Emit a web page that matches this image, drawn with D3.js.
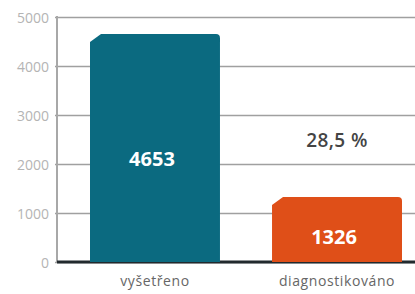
<!DOCTYPE html>
<html>
<head>
<meta charset="utf-8">
<script src="https://cdn.jsdelivr.net/npm/d3@7"></script>
<style>
  body { margin: 0; background: #fff; }
  svg { display: block; }
  .tick text { font-family: "Open Sans", sans-serif; font-size: 14px; fill: #b4b4b4; }
</style>
</head>
<body>
<script>
// data
var categories = ["vyšetřeno", "diagnostikováno"];
var values = [4653, 1326];
var barColors = ["#0b6a80", "#df4f18"];
var yTicks = [0, 1000, 2000, 3000, 4000, 5000];
var ratioLabel = "28,5 %";

var width = 415, height = 294;
var margin = {left: 57, right: 0, top: 17, bottom: 32};

var svg = d3.select("body").append("svg")
            .attr("width", width)
            .attr("height", height);

var x = d3.scaleBand()
          .domain(categories)
          .range([90, 402])
          .paddingInner(0.286)
          .paddingOuter(0);

var y = d3.scaleLinear()
          .domain([0, 5000])
          .range([height - margin.bottom, margin.top]);

// gridlines + tick labels
var yAxis = d3.axisLeft(y)
              .tickValues(yTicks)
              .tickSize(-(width - margin.left + 2))
              .tickPadding(6)
              .tickFormat(d3.format("d"));

var gAxis = svg.append("g")
   .attr("transform", "translate(" + margin.left + ",0)")
   .call(yAxis);
gAxis.select(".domain").remove();
gAxis.selectAll(".tick line")
     .attr("x1", -2)
     .attr("x2", width - margin.left)
     .attr("stroke", "#a0a0a0")
     .attr("stroke-width", 1.6);
gAxis.selectAll(".tick text").attr("x", -8).attr("dy", "0.4em");

// vertical axis line
svg.append("line")
   .attr("x1", margin.left).attr("x2", margin.left)
   .attr("y1", y(5000) - 1).attr("y2", y(0))
   .attr("stroke", "#a8a8a8")
   .attr("stroke-width", 2);

// dark floor line
svg.append("line")
   .attr("x1", margin.left).attr("x2", width)
   .attr("y1", y(0)).attr("y2", y(0))
   .attr("stroke", "#222a2e")
   .attr("stroke-width", 3);

// bars with cut top-left corner
function barPath(d, i) {
  var x0 = x(categories[i]), x1 = x0 + x.bandwidth();
  var top = y(d), bottom = y(0);
  return "M" + x0 + "," + bottom +
         "L" + x0 + "," + (top + 8) +
         "L" + (x0 + 11) + "," + top +
         "L" + (x1 - 4) + "," + top +
         "Q" + x1 + "," + top + " " + x1 + "," + (top + 4) +
         "L" + x1 + "," + bottom + "Z";
}

svg.selectAll(".bar")
   .data(values)
   .enter()
   .append("path")
   .attr("class", "bar")
   .attr("d", barPath)
   .attr("fill", function(d, i) { return barColors[i]; });

// value labels inside bars
svg.selectAll(".val")
   .data(values)
   .enter()
   .append("text")
   .attr("class", "val")
   .attr("x", function(d, i) { return x(categories[i]) + x.bandwidth() / 2 - 3; })
   .attr("y", function(d, i) { return i == 0 ? 166 : 244; })
   .attr("text-anchor", "middle")
   .style("font-family", "'Open Sans', sans-serif")
   .style("font-weight", "bold")
   .style("font-size", "20px")
   .style("fill", "#fff")
   .text(function(d) { return d; });

// category labels
svg.selectAll(".cat")
   .data(categories)
   .enter()
   .append("text")
   .attr("class", "cat")
   .attr("x", function(d) { return x(d) + x.bandwidth() / 2; })
   .attr("y", 286)
   .attr("text-anchor", "middle")
   .style("font-family", "'Open Sans', sans-serif")
   .style("font-size", "14px")
   .style("letter-spacing", "0.6px")
   .style("fill", "#666")
   .text(function(d) { return d; });

// ratio label
svg.append("text")
   .attr("x", x(categories[1]) + x.bandwidth() / 2)
   .attr("y", 147)
   .attr("text-anchor", "middle")
   .style("font-family", "'Open Sans', sans-serif")
   .style("font-weight", "600")
   .style("font-size", "19px")
   .style("letter-spacing", "0.4px")
   .style("fill", "#444")
   .text(ratioLabel);
</script>
</body>
</html>
